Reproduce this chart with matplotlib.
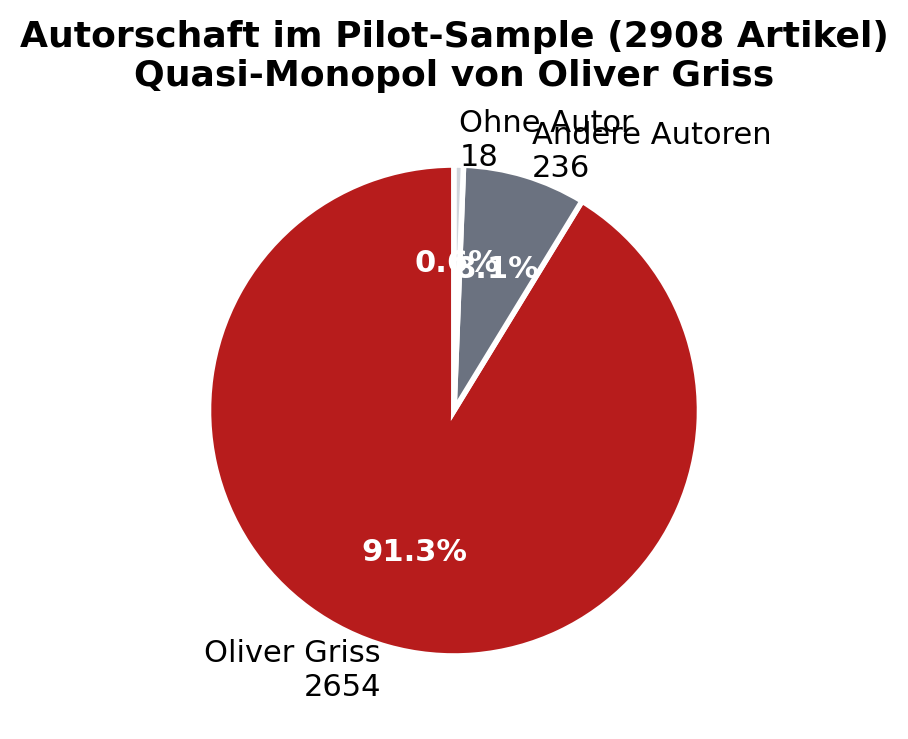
import matplotlib
matplotlib.use("Agg")
import matplotlib.pyplot as plt

labels = ["Oliver Griss", "Andere Autoren", "Ohne Autor"]
values = [2654, 236, 18]
colors = ["#B71C1C", "#6B7280", "#D1D5DB"]

W, H = 908, 739
fig = plt.figure(figsize=(W / 100, H / 100), dpi=100)
R = 245.5
cx, cy = 454, 410.5
side = 2.5 * R
ax = fig.add_axes([(cx - side / 2) / W, (H - cy - side / 2) / H, side / W, side / H])
wedges, texts, autotexts = ax.pie(
    values,
    labels=[f"{l}\n{v}" for l, v in zip(labels, values)],
    colors=colors,
    autopct="%1.1f%%",
    startangle=90,
    wedgeprops=dict(edgecolor="white", linewidth=4),
    textprops=dict(fontsize=22),
)
for t in autotexts:
    t.set_color("white")
    t.set_fontweight("bold")
    t.set_fontsize(22)
ax.set_xlim(-1.25, 1.25)
ax.set_ylim(-1.25, 1.25)
fig.text(cx / W, 1 - 20 / H,
         "Autorschaft im Pilot-Sample (2908 Artikel)\nQuasi-Monopol von Oliver Griss",
         fontsize=26, fontweight="bold", ha="center", va="top")
fig.savefig("out.png", dpi=100)
